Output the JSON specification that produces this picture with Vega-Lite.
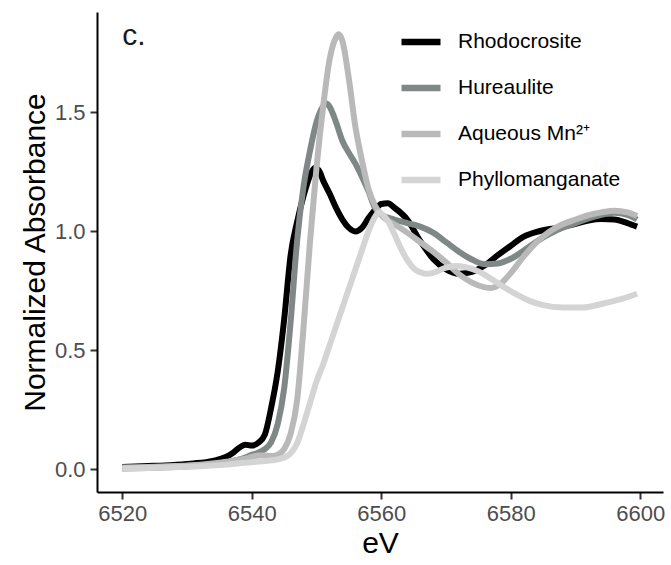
{
  "$schema": "https://vega.github.io/schema/vega-lite/v6.json",
  "width": 566,
  "height": 480,
  "autosize": {"type": "none"},
  "padding": {"left": 97, "top": 12, "right": 8, "bottom": 73},
  "background": "white",
  "config": {
    "view": {"stroke": null},
    "font": "Liberation Sans",
    "axis": {
      "grid": false,
      "domainColor": "#000000",
      "domainWidth": 2,
      "tickColor": "#333333",
      "tickWidth": 2,
      "tickSize": 7,
      "labelColor": "#4d4d4d",
      "labelFontSize": 22,
      "labelFont": "Liberation Sans",
      "titleFont": "Liberation Sans",
      "titleFontSize": 30,
      "titleFontWeight": "normal",
      "titleColor": "#000000"
    },
    "legend": {"labelFont": "Liberation Sans"}
  },
  "datasets": {
    "spectra": [
      {"s": "Rhodocrosite", "eV": 6520, "a": 0.010},
      {"s": "Rhodocrosite", "eV": 6524, "a": 0.014},
      {"s": "Rhodocrosite", "eV": 6528, "a": 0.019},
      {"s": "Rhodocrosite", "eV": 6531, "a": 0.025},
      {"s": "Rhodocrosite", "eV": 6534, "a": 0.036},
      {"s": "Rhodocrosite", "eV": 6536, "a": 0.052},
      {"s": "Rhodocrosite", "eV": 6537, "a": 0.068},
      {"s": "Rhodocrosite", "eV": 6538, "a": 0.090},
      {"s": "Rhodocrosite", "eV": 6539, "a": 0.104},
      {"s": "Rhodocrosite", "eV": 6540, "a": 0.100},
      {"s": "Rhodocrosite", "eV": 6541, "a": 0.112},
      {"s": "Rhodocrosite", "eV": 6542, "a": 0.145},
      {"s": "Rhodocrosite", "eV": 6543, "a": 0.26},
      {"s": "Rhodocrosite", "eV": 6544, "a": 0.41},
      {"s": "Rhodocrosite", "eV": 6545, "a": 0.63},
      {"s": "Rhodocrosite", "eV": 6546, "a": 0.90},
      {"s": "Rhodocrosite", "eV": 6547, "a": 1.04},
      {"s": "Rhodocrosite", "eV": 6548, "a": 1.15},
      {"s": "Rhodocrosite", "eV": 6549, "a": 1.235},
      {"s": "Rhodocrosite", "eV": 6549.8, "a": 1.268},
      {"s": "Rhodocrosite", "eV": 6550.5, "a": 1.25},
      {"s": "Rhodocrosite", "eV": 6551, "a": 1.215},
      {"s": "Rhodocrosite", "eV": 6552, "a": 1.16},
      {"s": "Rhodocrosite", "eV": 6553, "a": 1.10},
      {"s": "Rhodocrosite", "eV": 6554, "a": 1.05},
      {"s": "Rhodocrosite", "eV": 6555, "a": 1.015},
      {"s": "Rhodocrosite", "eV": 6556, "a": 1.000},
      {"s": "Rhodocrosite", "eV": 6557, "a": 1.015},
      {"s": "Rhodocrosite", "eV": 6558, "a": 1.055},
      {"s": "Rhodocrosite", "eV": 6559, "a": 1.09},
      {"s": "Rhodocrosite", "eV": 6560, "a": 1.115},
      {"s": "Rhodocrosite", "eV": 6561, "a": 1.118},
      {"s": "Rhodocrosite", "eV": 6562, "a": 1.10},
      {"s": "Rhodocrosite", "eV": 6564, "a": 1.05},
      {"s": "Rhodocrosite", "eV": 6566, "a": 0.96},
      {"s": "Rhodocrosite", "eV": 6568, "a": 0.885},
      {"s": "Rhodocrosite", "eV": 6570, "a": 0.84},
      {"s": "Rhodocrosite", "eV": 6572, "a": 0.822},
      {"s": "Rhodocrosite", "eV": 6574, "a": 0.83},
      {"s": "Rhodocrosite", "eV": 6576, "a": 0.858},
      {"s": "Rhodocrosite", "eV": 6578, "a": 0.90},
      {"s": "Rhodocrosite", "eV": 6580, "a": 0.94},
      {"s": "Rhodocrosite", "eV": 6582, "a": 0.978},
      {"s": "Rhodocrosite", "eV": 6584, "a": 0.998},
      {"s": "Rhodocrosite", "eV": 6586, "a": 1.01},
      {"s": "Rhodocrosite", "eV": 6588, "a": 1.018},
      {"s": "Rhodocrosite", "eV": 6590, "a": 1.032},
      {"s": "Rhodocrosite", "eV": 6592, "a": 1.046},
      {"s": "Rhodocrosite", "eV": 6594, "a": 1.052},
      {"s": "Rhodocrosite", "eV": 6596, "a": 1.05},
      {"s": "Rhodocrosite", "eV": 6598, "a": 1.035},
      {"s": "Rhodocrosite", "eV": 6599.5, "a": 1.02},

      {"s": "Hureaulite", "eV": 6520, "a": 0.004},
      {"s": "Hureaulite", "eV": 6524, "a": 0.006},
      {"s": "Hureaulite", "eV": 6528, "a": 0.010},
      {"s": "Hureaulite", "eV": 6532, "a": 0.016},
      {"s": "Hureaulite", "eV": 6535, "a": 0.025},
      {"s": "Hureaulite", "eV": 6537, "a": 0.035},
      {"s": "Hureaulite", "eV": 6539, "a": 0.05},
      {"s": "Hureaulite", "eV": 6540, "a": 0.062},
      {"s": "Hureaulite", "eV": 6541, "a": 0.070},
      {"s": "Hureaulite", "eV": 6542, "a": 0.085},
      {"s": "Hureaulite", "eV": 6543, "a": 0.115},
      {"s": "Hureaulite", "eV": 6544, "a": 0.19},
      {"s": "Hureaulite", "eV": 6545, "a": 0.34},
      {"s": "Hureaulite", "eV": 6546, "a": 0.62},
      {"s": "Hureaulite", "eV": 6547, "a": 0.96},
      {"s": "Hureaulite", "eV": 6548, "a": 1.19},
      {"s": "Hureaulite", "eV": 6549, "a": 1.34},
      {"s": "Hureaulite", "eV": 6550, "a": 1.46},
      {"s": "Hureaulite", "eV": 6551, "a": 1.525},
      {"s": "Hureaulite", "eV": 6551.5, "a": 1.537},
      {"s": "Hureaulite", "eV": 6552, "a": 1.525},
      {"s": "Hureaulite", "eV": 6553, "a": 1.46},
      {"s": "Hureaulite", "eV": 6554, "a": 1.38},
      {"s": "Hureaulite", "eV": 6555, "a": 1.33},
      {"s": "Hureaulite", "eV": 6556, "a": 1.285},
      {"s": "Hureaulite", "eV": 6557, "a": 1.23},
      {"s": "Hureaulite", "eV": 6558, "a": 1.17},
      {"s": "Hureaulite", "eV": 6559, "a": 1.10},
      {"s": "Hureaulite", "eV": 6560, "a": 1.07},
      {"s": "Hureaulite", "eV": 6562, "a": 1.05},
      {"s": "Hureaulite", "eV": 6564, "a": 1.035},
      {"s": "Hureaulite", "eV": 6566, "a": 1.02},
      {"s": "Hureaulite", "eV": 6568, "a": 0.995},
      {"s": "Hureaulite", "eV": 6570, "a": 0.955},
      {"s": "Hureaulite", "eV": 6572, "a": 0.915},
      {"s": "Hureaulite", "eV": 6574, "a": 0.882},
      {"s": "Hureaulite", "eV": 6576, "a": 0.862},
      {"s": "Hureaulite", "eV": 6578, "a": 0.865},
      {"s": "Hureaulite", "eV": 6580, "a": 0.885},
      {"s": "Hureaulite", "eV": 6582, "a": 0.92},
      {"s": "Hureaulite", "eV": 6584, "a": 0.958},
      {"s": "Hureaulite", "eV": 6586, "a": 0.99},
      {"s": "Hureaulite", "eV": 6588, "a": 1.015},
      {"s": "Hureaulite", "eV": 6590, "a": 1.035},
      {"s": "Hureaulite", "eV": 6592, "a": 1.055},
      {"s": "Hureaulite", "eV": 6594, "a": 1.07},
      {"s": "Hureaulite", "eV": 6596, "a": 1.078},
      {"s": "Hureaulite", "eV": 6598, "a": 1.07},
      {"s": "Hureaulite", "eV": 6599.5, "a": 1.05},

      {"s": "Aqueous Mn²⁺", "eV": 6520, "a": 0.008},
      {"s": "Aqueous Mn²⁺", "eV": 6524, "a": 0.010},
      {"s": "Aqueous Mn²⁺", "eV": 6528, "a": 0.014},
      {"s": "Aqueous Mn²⁺", "eV": 6532, "a": 0.02},
      {"s": "Aqueous Mn²⁺", "eV": 6535, "a": 0.028},
      {"s": "Aqueous Mn²⁺", "eV": 6537, "a": 0.035},
      {"s": "Aqueous Mn²⁺", "eV": 6539, "a": 0.045},
      {"s": "Aqueous Mn²⁺", "eV": 6540, "a": 0.052},
      {"s": "Aqueous Mn²⁺", "eV": 6541, "a": 0.058},
      {"s": "Aqueous Mn²⁺", "eV": 6542, "a": 0.058},
      {"s": "Aqueous Mn²⁺", "eV": 6543, "a": 0.056},
      {"s": "Aqueous Mn²⁺", "eV": 6544, "a": 0.062},
      {"s": "Aqueous Mn²⁺", "eV": 6545, "a": 0.085},
      {"s": "Aqueous Mn²⁺", "eV": 6546, "a": 0.15},
      {"s": "Aqueous Mn²⁺", "eV": 6547, "a": 0.29},
      {"s": "Aqueous Mn²⁺", "eV": 6548, "a": 0.60},
      {"s": "Aqueous Mn²⁺", "eV": 6549, "a": 0.96},
      {"s": "Aqueous Mn²⁺", "eV": 6550, "a": 1.27},
      {"s": "Aqueous Mn²⁺", "eV": 6551, "a": 1.52},
      {"s": "Aqueous Mn²⁺", "eV": 6552, "a": 1.72},
      {"s": "Aqueous Mn²⁺", "eV": 6553, "a": 1.815},
      {"s": "Aqueous Mn²⁺", "eV": 6553.4, "a": 1.828},
      {"s": "Aqueous Mn²⁺", "eV": 6554, "a": 1.80},
      {"s": "Aqueous Mn²⁺", "eV": 6555, "a": 1.64},
      {"s": "Aqueous Mn²⁺", "eV": 6556, "a": 1.44},
      {"s": "Aqueous Mn²⁺", "eV": 6557, "a": 1.30},
      {"s": "Aqueous Mn²⁺", "eV": 6558, "a": 1.18},
      {"s": "Aqueous Mn²⁺", "eV": 6559, "a": 1.11},
      {"s": "Aqueous Mn²⁺", "eV": 6560, "a": 1.07},
      {"s": "Aqueous Mn²⁺", "eV": 6561, "a": 1.045},
      {"s": "Aqueous Mn²⁺", "eV": 6562, "a": 1.03},
      {"s": "Aqueous Mn²⁺", "eV": 6564, "a": 0.995},
      {"s": "Aqueous Mn²⁺", "eV": 6566, "a": 0.955},
      {"s": "Aqueous Mn²⁺", "eV": 6568, "a": 0.915},
      {"s": "Aqueous Mn²⁺", "eV": 6570, "a": 0.87},
      {"s": "Aqueous Mn²⁺", "eV": 6572, "a": 0.82},
      {"s": "Aqueous Mn²⁺", "eV": 6574, "a": 0.785},
      {"s": "Aqueous Mn²⁺", "eV": 6576, "a": 0.765},
      {"s": "Aqueous Mn²⁺", "eV": 6577, "a": 0.762},
      {"s": "Aqueous Mn²⁺", "eV": 6578, "a": 0.772},
      {"s": "Aqueous Mn²⁺", "eV": 6580, "a": 0.825},
      {"s": "Aqueous Mn²⁺", "eV": 6582, "a": 0.895},
      {"s": "Aqueous Mn²⁺", "eV": 6584, "a": 0.955},
      {"s": "Aqueous Mn²⁺", "eV": 6586, "a": 1.00},
      {"s": "Aqueous Mn²⁺", "eV": 6588, "a": 1.03},
      {"s": "Aqueous Mn²⁺", "eV": 6590, "a": 1.05},
      {"s": "Aqueous Mn²⁺", "eV": 6592, "a": 1.068},
      {"s": "Aqueous Mn²⁺", "eV": 6594, "a": 1.08},
      {"s": "Aqueous Mn²⁺", "eV": 6596, "a": 1.087},
      {"s": "Aqueous Mn²⁺", "eV": 6598, "a": 1.08},
      {"s": "Aqueous Mn²⁺", "eV": 6599.5, "a": 1.065},

      {"s": "Phyllomanganate", "eV": 6520, "a": 0.004},
      {"s": "Phyllomanganate", "eV": 6524, "a": 0.006},
      {"s": "Phyllomanganate", "eV": 6528, "a": 0.009},
      {"s": "Phyllomanganate", "eV": 6532, "a": 0.013},
      {"s": "Phyllomanganate", "eV": 6536, "a": 0.02},
      {"s": "Phyllomanganate", "eV": 6539, "a": 0.028},
      {"s": "Phyllomanganate", "eV": 6541, "a": 0.033},
      {"s": "Phyllomanganate", "eV": 6543, "a": 0.038},
      {"s": "Phyllomanganate", "eV": 6544, "a": 0.042},
      {"s": "Phyllomanganate", "eV": 6545, "a": 0.05},
      {"s": "Phyllomanganate", "eV": 6546, "a": 0.068},
      {"s": "Phyllomanganate", "eV": 6547, "a": 0.11},
      {"s": "Phyllomanganate", "eV": 6548, "a": 0.19},
      {"s": "Phyllomanganate", "eV": 6549, "a": 0.28},
      {"s": "Phyllomanganate", "eV": 6550, "a": 0.37},
      {"s": "Phyllomanganate", "eV": 6551, "a": 0.44},
      {"s": "Phyllomanganate", "eV": 6552, "a": 0.52},
      {"s": "Phyllomanganate", "eV": 6553, "a": 0.60},
      {"s": "Phyllomanganate", "eV": 6554, "a": 0.68},
      {"s": "Phyllomanganate", "eV": 6555, "a": 0.76},
      {"s": "Phyllomanganate", "eV": 6556, "a": 0.84},
      {"s": "Phyllomanganate", "eV": 6557, "a": 0.92},
      {"s": "Phyllomanganate", "eV": 6558, "a": 1.00},
      {"s": "Phyllomanganate", "eV": 6559, "a": 1.06},
      {"s": "Phyllomanganate", "eV": 6559.6, "a": 1.08},
      {"s": "Phyllomanganate", "eV": 6560, "a": 1.075},
      {"s": "Phyllomanganate", "eV": 6561, "a": 1.045},
      {"s": "Phyllomanganate", "eV": 6562, "a": 0.99},
      {"s": "Phyllomanganate", "eV": 6563, "a": 0.93},
      {"s": "Phyllomanganate", "eV": 6564, "a": 0.88},
      {"s": "Phyllomanganate", "eV": 6565, "a": 0.845},
      {"s": "Phyllomanganate", "eV": 6566, "a": 0.828},
      {"s": "Phyllomanganate", "eV": 6567, "a": 0.822},
      {"s": "Phyllomanganate", "eV": 6568, "a": 0.826},
      {"s": "Phyllomanganate", "eV": 6570, "a": 0.848},
      {"s": "Phyllomanganate", "eV": 6571.5, "a": 0.855},
      {"s": "Phyllomanganate", "eV": 6573, "a": 0.85},
      {"s": "Phyllomanganate", "eV": 6575, "a": 0.832},
      {"s": "Phyllomanganate", "eV": 6577, "a": 0.80},
      {"s": "Phyllomanganate", "eV": 6579, "a": 0.765},
      {"s": "Phyllomanganate", "eV": 6581, "a": 0.733},
      {"s": "Phyllomanganate", "eV": 6583, "a": 0.707},
      {"s": "Phyllomanganate", "eV": 6585, "a": 0.69},
      {"s": "Phyllomanganate", "eV": 6588, "a": 0.68},
      {"s": "Phyllomanganate", "eV": 6591, "a": 0.68},
      {"s": "Phyllomanganate", "eV": 6594, "a": 0.695},
      {"s": "Phyllomanganate", "eV": 6597, "a": 0.715},
      {"s": "Phyllomanganate", "eV": 6599.5, "a": 0.738}
    ],
    "panel": [
      {"eV": 6520, "a": 1.785, "t": "c."}
    ]
  },
  "layer": [
    {
      "data": {"name": "spectra"},
      "mark": {"type": "line", "interpolate": "monotone", "strokeWidth": 6, "strokeCap": "butt", "strokeJoin": "round"},
      "encoding": {
        "x": {
          "field": "eV", "type": "quantitative",
          "scale": {"domain": [6516.1, 6603.5], "nice": false, "zero": false},
          "axis": {"values": [6520, 6540, 6560, 6580, 6600], "format": "d", "title": "eV", "labelPadding": 4, "titlePadding": 4}
        },
        "y": {
          "field": "a", "type": "quantitative",
          "scale": {"domain": [-0.095, 1.922], "nice": false, "zero": false},
          "axis": {"values": [0, 0.5, 1, 1.5], "format": ".1f", "title": "Normalized Absorbance", "labelPadding": 5, "titlePadding": 4}
        },
        "color": {
          "field": "s", "type": "nominal",
          "scale": {
            "domain": ["Rhodocrosite", "Hureaulite", "Aqueous Mn²⁺", "Phyllomanganate"],
            "range": ["#000000", "#7f8787", "#b9b9b9", "#d4d4d4"]
          },
          "legend": {
            "title": null,
            "orient": "none",
            "legendX": 301,
            "legendY": 7,
            "symbolType": "stroke",
            "symbolSize": 1521,
            "symbolStrokeWidth": 6.5,
            "labelFontSize": 21,
            "labelColor": "#000000",
            "labelOffset": 14,
            "labelLimit": 0,
            "rowPadding": 10,
            "padding": 0
          }
        }
      }
    },
    {
      "data": {"name": "panel"},
      "mark": {"type": "text", "align": "left", "baseline": "alphabetic", "fontSize": 30, "color": "#1a1a1a", "font": "Liberation Sans"},
      "encoding": {
        "x": {"field": "eV", "type": "quantitative"},
        "y": {"field": "a", "type": "quantitative"},
        "text": {"field": "t"}
      }
    }
  ]
}
